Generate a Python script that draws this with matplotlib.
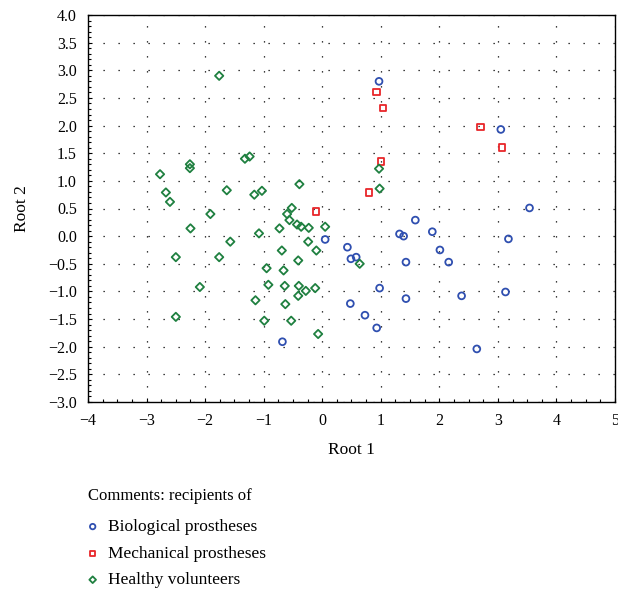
import matplotlib
matplotlib.use("Agg")
import matplotlib.pyplot as plt
from matplotlib.ticker import AutoMinorLocator

bio_x = [0.97, 3.05, 3.54, 1.59, 0.05, 0.43, 0.58, 0.49, 1.32, 1.39, 1.88, 2.01, 2.16, 1.43,
         3.18, 0.98, 1.43, 2.38, 3.13, 0.48, 0.73, 0.93, 2.64, -0.68]
bio_y = [2.80, 1.93, 0.51, 0.29, -0.06, -0.20, -0.38, -0.41, 0.04, 0.00, 0.08, -0.25, -0.47, -0.47,
         -0.05, -0.94, -1.13, -1.08, -1.01, -1.22, -1.43, -1.66, -2.04, -1.91]

mech_x = [0.93, 1.04, 2.70, 3.07, 1.00, 0.80, -0.11]
mech_y = [2.61, 2.32, 1.97, 1.60, 1.35, 0.79, 0.45]

healthy_x = [-1.76, -2.26, -2.26, -2.77, -1.32, -1.24, -0.39, -2.67, -2.60, -1.63, -1.16, -1.03,
             -0.52, -0.60, -1.91, -0.56, -2.25, -0.73, -0.43, -0.36, -0.23, 0.05,
             -1.08, -1.57, -0.24, -2.50, -1.76, -0.69, -0.10, -0.41, -0.95, -0.66,
             -2.09, -0.92, -0.64, -0.40, -0.12, -0.28, -0.41, -1.14, -0.63, -2.50,
             -0.99, -0.53, -0.07, 0.97, 0.98, 0.64]
healthy_y = [2.90, 1.30, 1.23, 1.12, 1.40, 1.44, 0.94, 0.79, 0.62, 0.83, 0.75, 0.82,
             0.51, 0.40, 0.40, 0.29, 0.14, 0.14, 0.21, 0.17, 0.15, 0.17,
             0.05, -0.10, -0.10, -0.38, -0.38, -0.26, -0.26, -0.44, -0.58, -0.62,
             -0.92, -0.88, -0.90, -0.90, -0.94, -0.99, -1.08, -1.16, -1.23, -1.46,
             -1.53, -1.53, -1.77, 1.22, 0.86, -0.50]

labels = ["Biological prostheses", "Mechanical prostheses", "Healthy volunteers"]
legend_title = "Comments: recipients of"
x_ticks = [-4, -3, -2, -1, 0, 1, 2, 3, 4, 5]
y_ticks = [-3.0, -2.5, -2.0, -1.5, -1.0, -0.5, 0.0, 0.5, 1.0, 1.5, 2.0, 2.5, 3.0, 3.5, 4.0]

plt.rcParams['font.family'] = ['Liberation Serif', 'DejaVu Serif']

fig = plt.figure(figsize=(6.18, 5.97), dpi=100)
ax = fig.add_axes([88/618, 1-402/597, (615-88)/618, (402-15)/597])

ax.scatter(bio_x, bio_y, s=24, marker='o', facecolors='none', edgecolors='#2f4fb0',
           linewidths=1.3, label=labels[0], zorder=3)
ax.scatter(mech_x, mech_y, s=22, marker='s', facecolors='none', edgecolors='#e8262a',
           linewidths=1.3, label=labels[1], zorder=3)
ax.scatter(healthy_x, healthy_y, s=18, marker='D', facecolors='none', edgecolors='#1f8040',
           linewidths=1.3, label=labels[2], zorder=3)

ax.set_xlim(-4, 5)
ax.set_ylim(-3, 4)
ax.xaxis.set_minor_locator(AutoMinorLocator(4))
ax.yaxis.set_minor_locator(AutoMinorLocator(5))
ax.set_xticks(x_ticks)
ax.set_xticklabels([("\u2212%d" % -v) if v < 0 else str(v) for v in x_ticks])
ax.set_yticks(y_ticks)
ax.set_yticklabels([("\u2212%.1f" % -v) if v < 0 else "%.1f" % abs(v) for v in y_ticks])
ax.tick_params(which='both', direction='in', labelsize=11.5, width=0.8, pad=8)
ax.tick_params(which='major', length=3)
ax.tick_params(which='minor', length=2)

ax.grid(True, which='major', color='black', linestyle=(0, (1, 11)), linewidth=0.9)
for s in ax.spines.values():
    s.set_linewidth(1.0)

ax.set_xlabel("Root 1", fontsize=12.5, labelpad=9)
ax.set_ylabel("Root 2", fontsize=12.5, labelpad=13)

fig.text(88/618, 1-496/597, legend_title, fontsize=12, ha='left', va='center')
leg = fig.legend(loc='upper left', bbox_to_anchor=(84/618, 1-519/597), frameon=False,
                 fontsize=12.5, handletextpad=0.4, labelspacing=0.6, borderpad=0,
                 borderaxespad=0, markerscale=0.8, handlelength=1.0)

fig.savefig("out.png", dpi=100)
